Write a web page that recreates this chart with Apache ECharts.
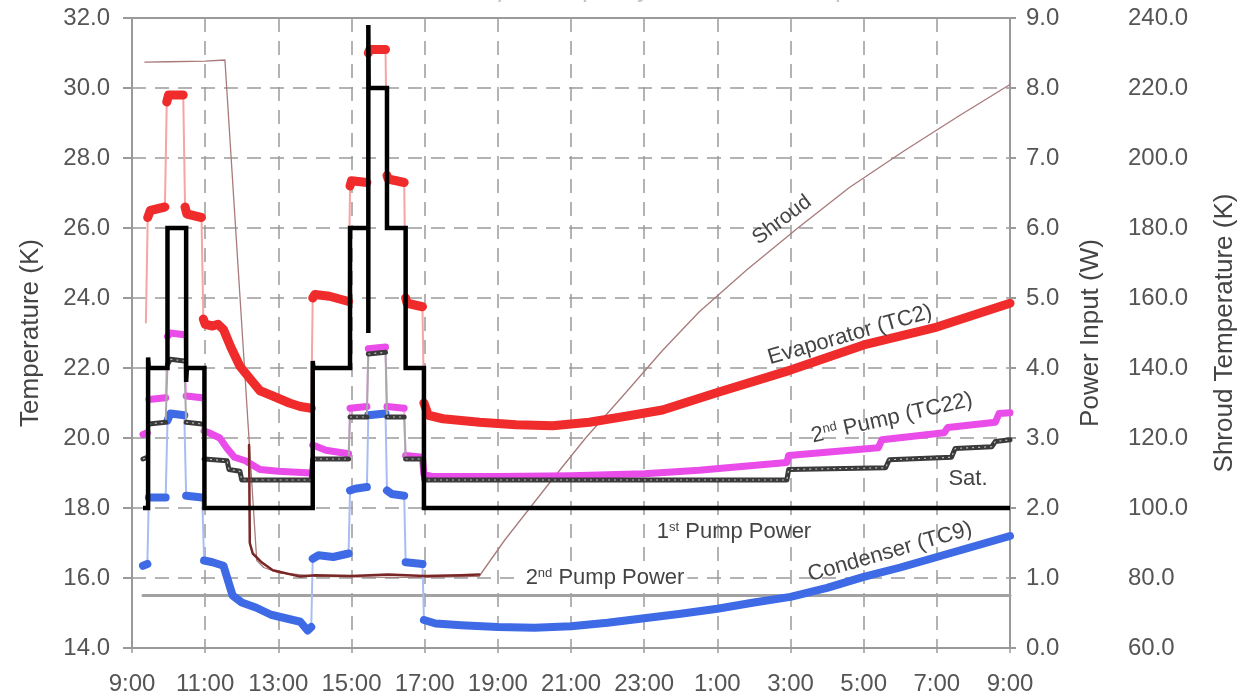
<!DOCTYPE html>
<html>
<head>
<meta charset="utf-8">
<script src="https://cdn.jsdelivr.net/npm/echarts@6/dist/echarts.min.js"></script>
<style>
html,body{margin:0;padding:0;background:#fff;}
#chart{width:1246px;height:700px;}
</style>
</head>
<body>
<div id="chart"></div>
<script>
// ---------- data (hours after 9:00) ----------
const xTickLabels = ['9:00','11:00','13:00','15:00','17:00','19:00','21:00','23:00','1:00','3:00','5:00','7:00','9:00'];

const evapT = [0.38,0.43,0.5,0.9,0.95,1.0,1.4,1.45,1.5,1.9,1.95,2.0,2.2,2.35,2.5,2.7,2.95,3.3,3.5,3.85,4.3,4.6,4.9,4.94,5.0,5.4,5.92,5.96,6.0,6.42,6.46,6.5,6.93,6.97,7.0,7.44,7.48,7.52,7.94,7.98,8.1,8.5,9.5,10.5,11.5,12.5,13.5,14.5,16.0,18.0,20.0,22.0,24.0];
const evapV = [23.3,26.3,26.5,26.6,29.6,29.8,29.8,26.6,26.4,26.3,23.4,23.25,23.2,23.25,23.1,22.6,22.05,21.6,21.35,21.2,21.0,20.9,20.85,24.0,24.1,24.05,23.9,27.2,27.35,27.3,31.0,31.1,31.1,27.5,27.4,27.3,24.0,23.85,23.75,21.0,20.65,20.55,20.45,20.38,20.35,20.45,20.62,20.8,21.3,21.94,22.66,23.17,23.85];

const pumpT = [0.3,0.42,0.46,0.92,0.97,1.05,1.43,1.48,1.92,1.97,2.1,2.4,2.6,2.8,3.1,3.5,4.0,4.9,4.94,5.3,5.92,5.96,6.42,6.46,6.93,6.97,7.44,7.48,7.94,7.98,8.2,10,12,14,15.5,17.9,17.95,20.4,20.5,22.2,22.3,23.6,23.7,24];
const pumpV = [20.1,20.15,21.1,21.15,22.9,23.0,22.95,21.2,21.15,20.2,20.15,20.0,19.7,19.45,19.35,19.1,19.05,19.0,19.8,19.65,19.55,20.85,20.9,22.55,22.6,20.9,20.85,19.5,19.45,18.95,18.9,18.9,18.92,18.98,19.08,19.3,19.5,19.72,19.95,20.15,20.3,20.45,20.7,20.72];

const satT = [0.3,0.42,0.46,0.92,0.97,1.05,1.43,1.48,1.92,1.97,2.6,2.65,2.95,3.0,4.9,4.94,5.92,5.96,6.42,6.46,6.93,6.97,7.44,7.48,7.94,7.98,17.9,17.95,20.6,20.7,22.4,22.5,23.5,23.6,24];
const satV = [19.4,19.45,20.4,20.45,22.1,22.25,22.2,20.45,20.4,19.4,19.35,19.1,19.05,18.8,18.8,19.4,19.4,20.6,20.6,22.4,22.45,20.6,20.6,19.4,19.4,18.8,18.8,19.1,19.15,19.38,19.45,19.7,19.75,19.9,19.95];

const condT = [0.3,0.42,0.46,0.92,0.97,1.05,1.43,1.48,1.92,1.97,2.2,2.5,2.75,3.0,3.4,3.8,4.2,4.6,4.8,4.9,4.94,5.1,5.5,5.92,5.96,6.1,6.42,6.46,6.93,6.97,7.1,7.44,7.48,7.94,7.98,8.3,9,10,11,12,13,14,15,16,17,18,19,20,21,22,23,24];
const condV = [16.35,16.4,18.3,18.3,20.5,20.7,20.65,18.35,18.3,16.5,16.45,16.35,15.5,15.3,15.15,14.95,14.85,14.75,14.5,14.6,16.55,16.65,16.6,16.7,18.5,18.55,18.6,20.65,20.7,18.5,18.4,18.35,16.45,16.4,14.8,14.7,14.65,14.6,14.58,14.62,14.72,14.85,14.98,15.12,15.3,15.46,15.72,16.03,16.3,16.6,16.9,17.2];

const pump1PowerT = [0.3,0.44,0.44,0.46,0.97,0.97,1.48,1.48,1.5,1.98,1.98,4.94,4.94,4.96,5.96,5.96,6.46,6.46,6.46,6.47,6.97,6.97,7.48,7.48,7.98,7.98,24];
const pump1PowerV = [2.0,2.0,4.15,4.0,4.0,6.0,6.0,3.8,4.0,4.0,2.0,2.0,4.1,4.0,4.0,6.0,6.0,4.5,8.9,8.0,8.0,6.0,6.0,4.0,4.0,2.0,2.0];

const pump2PowerT = [3.2,3.22,3.3,3.55,3.85,4.6,5.0,6.0,7.0,8.0,9.0,9.49];
const pump2PowerV = [2.9,1.5,1.35,1.22,1.11,1.02,1.04,1.03,1.05,1.03,1.04,1.05];

const shroudT = [0.35,1.0,2.0,2.54,3.41,3.6,4.0,5.0,6.0,7.0,8.0,9.49,10.2,11.4,12.4,13.5,14.5,15.5,16.8,18.2,19.6,21.1,22.6,24];
const shroudV = [227.4,227.5,227.7,228.0,85,83,81.5,80.5,80.3,80.2,80.2,80.5,91,107,120,133,145,156,168,180,191.5,202,212,221];

const refLineT = [0.3,24];
const refLineV = [15.5,15.5];

// ---------- helpers ----------
function pairs(ts, vs){ return ts.map((t,i)=>[t, vs[i]]); }
// plateaus: break the thick band at fast jumps (drawn thin underneath)
function plateaus(ts, vs){
  const out = [];
  for (let i=0;i<ts.length;i++){
    if (i>0 && ts[i]-ts[i-1] <= 0.06 && Math.abs(vs[i]-vs[i-1]) >= 0.6){
      out.push([(ts[i]+ts[i-1])/2, null]);
    }
    out.push([ts[i], vs[i]]);
  }
  return out;
}
const FONT = '"Liberation Sans", Arial, Helvetica, sans-serif';
function line(name, data, color, width, yIdx, extra){
  return Object.assign({
    name, type:'line', data, yAxisIndex:yIdx||0, showSymbol:false, symbol:'none',
    connectNulls:false, silent:true,
    lineStyle:{color, width, join:'round', cap:'round'}
  }, extra||{});
}

const chart = echarts.init(document.getElementById('chart'), null, {renderer:'canvas'});
const gridLine = {show:true, lineStyle:{color:'#9a9a9a', width:1.5, type:[14,9]}};
const labelStyle = {fontSize:24, color:'#555', fontFamily:FONT};
const nameStyle = {fontSize:26, color:'#444', fontFamily:FONT};

chart.setOption({
  animation:false,
  backgroundColor:'#fff',
  grid:{left:132, right:234, top:18, bottom:52, show:true, borderColor:'#9a9a9a', borderWidth:2},
  xAxis:{
    type:'value', min:0, max:24, interval:2,
    axisLine:{show:true, lineStyle:{color:'#9a9a9a', width:2}},
    axisTick:{show:true, length:5, lineStyle:{color:'#9a9a9a', width:1.5}},
    axisLabel:Object.assign({margin:24, formatter:v=>xTickLabels[Math.round(v/2)]}, labelStyle),
    splitLine:gridLine
  },
  yAxis:[
    {type:'value', position:'left', min:14, max:32, interval:2,
     name:'Temperature (K)', nameLocation:'middle', nameRotate:90, nameGap:88, nameTextStyle:nameStyle,
     axisLine:{show:true, lineStyle:{color:'#9a9a9a', width:2}},
     axisTick:{show:true, length:9, lineStyle:{color:'#9a9a9a', width:2}},
     axisLabel:Object.assign({margin:22, formatter:v=>v.toFixed(1)}, labelStyle),
     splitLine:gridLine},
    {type:'value', position:'right', min:0, max:9, interval:1,
     name:'Power Input (W)', nameLocation:'middle', nameRotate:90, nameGap:68, nameTextStyle:nameStyle,
     axisLine:{show:true, lineStyle:{color:'#9a9a9a', width:2}},
     axisTick:{show:true, length:6, lineStyle:{color:'#9a9a9a', width:2}},
     axisLabel:Object.assign({margin:16, formatter:v=>v.toFixed(1)}, labelStyle),
     splitLine:{show:false}},
    {type:'value', position:'right', offset:110, min:60, max:240, interval:20,
     name:'Shroud Temperature (K)', nameLocation:'middle', nameRotate:90, nameGap:92, nameTextStyle:nameStyle,
     axisLine:{show:false}, axisTick:{show:false},
     axisLabel:Object.assign({margin:8, formatter:v=>v.toFixed(1)}, labelStyle),
     splitLine:{show:false}}
  ],
  series:[
    line('Shroud', pairs(shroudT, shroudV), '#a87a7a', 1.3, 2),
    line('Reference', pairs(refLineT, refLineV), '#a2a2a2', 3, 0),
    line('Condenser transitions', pairs(condT, condV), '#a9bdf4', 2, 0),
    line('Condenser (TC9)', plateaus(condT, condV), '#3f6ae6', 8, 0),
    line('2nd Pump transitions', pairs(pumpT, pumpV), '#f3aaf3', 2, 0),
    line('2nd Pump (TC22)', plateaus(pumpT, pumpV), '#ea4cea', 7, 0),
    line('Sat. transitions', pairs(satT, satV), '#a8a8a8', 2, 0),
    line('Sat.', plateaus(satT, satV), '#3a3a3a', 5, 0),
    line('Sat. dots', plateaus(satT, satV), '#bdbdbd', 1.2, 0, {lineStyle:{color:'#bdbdbd', width:1.2, type:[2,4]}}),
    line('Evaporator transitions', pairs(evapT, evapV), '#f6a4a4', 2, 0),
    line('Evaporator (TC2)', plateaus(evapT, evapV), '#ef2b2b', 9, 0),
    line('2nd Pump Power', pairs(pump2PowerT, pump2PowerV), '#7a2626', 2.5, 1),
    line('1st Pump Power', pairs(pump1PowerT, pump1PowerV), '#000000', 4.5, 1, {lineStyle:{color:'#000', width:4.5, join:'miter', cap:'butt'}})
  ],
  graphic:[
    {type:'text', x:612, y:-10, z:100, style:{text:'Heat Transport Capacity of Second Pump', font:'italic 26px '+FONT, fill:'#c4c4c4', align:'center', verticalAlign:'middle'}},
    {type:'text', x:782, y:220, rotation:0.646, z:100, style:{text:'Shroud', font:'21px '+FONT, fill:'#444', align:'center', verticalAlign:'middle'}},
    {type:'text', x:850, y:335, rotation:0.28, z:100, style:{text:'Evaporator (TC2)', font:'22px '+FONT, fill:'#444', align:'center', verticalAlign:'middle'}},
    {type:'text', x:892, y:418, rotation:0.227, z:100, style:{text:'{n|2}{s|nd}{n| Pump (TC22)}', fill:'#444', align:'center', verticalAlign:'middle',
      rich:{n:{fontSize:22, fontFamily:FONT, fill:'#444'}, s:{fontSize:13, fontFamily:FONT, fill:'#444', padding:[0,0,9,0]}}}},
    {type:'text', x:968, y:479, z:100, style:{text:'Sat.', font:'22px '+FONT, fill:'#444', align:'center', verticalAlign:'middle'}},
    {type:'text', x:734, y:532, z:100, style:{text:'{n|1}{s|st}{n| Pump Power}', fill:'#444', align:'center', verticalAlign:'middle',
      rich:{n:{fontSize:22, fontFamily:FONT, fill:'#444'}, s:{fontSize:13, fontFamily:FONT, fill:'#444', padding:[0,0,9,0]}}}},
    {type:'text', x:890, y:552, rotation:0.28, z:100, style:{text:'Condenser (TC9)', font:'22px '+FONT, fill:'#444', align:'center', verticalAlign:'middle'}},
    {type:'text', x:605, y:578, z:100, style:{text:'{n|2}{s|nd}{n| Pump Power}', fill:'#444', align:'center', verticalAlign:'middle', backgroundColor:'#fff', padding:[0,3,0,3],
      rich:{n:{fontSize:22, fontFamily:FONT, fill:'#444'}, s:{fontSize:13, fontFamily:FONT, fill:'#444', padding:[0,0,9,0]}}}}
  ]
});
</script>
</body>
</html>
